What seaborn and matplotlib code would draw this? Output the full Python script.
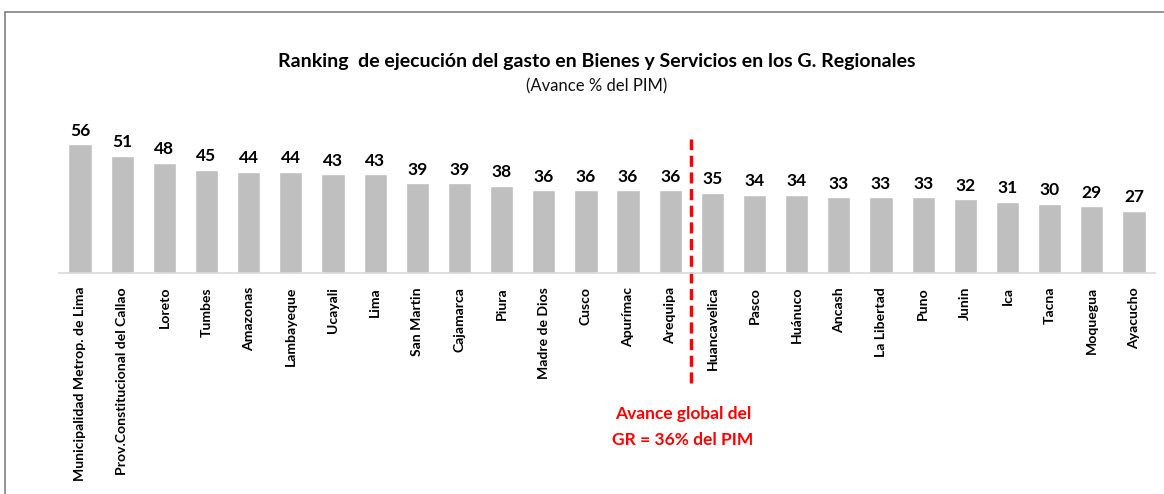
import matplotlib
matplotlib.use("Agg")
import matplotlib.pyplot as plt
import matplotlib.lines as mlines
import seaborn as sns
import pandas as pd

regiones = [
    "Municipalidad Metrop. de Lima", "Prov.Constitucional del Callao", "Loreto",
    "Tumbes", "Amazonas", "Lambayeque", "Ucayali", "Lima", "San Martin",
    "Cajamarca", "Piura", "Madre de Dios", "Cusco", "Apurímac", "Arequipa",
    "Huancavelica", "Pasco", "Huánuco", "Ancash", "La Libertad", "Puno",
    "Junin", "Ica", "Tacna", "Moquegua", "Ayacucho",
]
avance = [56, 51, 48, 45, 44, 44, 43, 43, 39, 39, 38, 36, 36, 36, 36,
          35, 34, 34, 33, 33, 33, 32, 31, 30, 29, 27]
avance_global = 36

df = pd.DataFrame({"region": regiones, "avance": avance})

sns.set_style("white")
plt.rcParams["font.family"] = ["Lato", "DejaVu Sans"]

fig = plt.figure(figsize=(11.64, 4.94), dpi=100)
ax = fig.add_axes([59 / 1164, 1 - 273 / 494, (1155 - 59) / 1164, 138 / 494])

sns.barplot(data=df, x="region", y="avance", color="#BFBFBF", width=0.55,
            saturation=1, ax=ax)

for i, v in enumerate(avance):
    ax.text(i, v + 2.4, f"{v:.0f}", ha="center", va="bottom",
            fontsize=12.5, fontweight="bold", color="#000000")

ax.set_xlim(-0.5, len(regiones) - 0.5)
ax.set_ylim(0, 60)
ax.set_xlabel("")
ax.set_ylabel("")
ax.set_yticks([])
ax.tick_params(axis="x", length=0, pad=10)
for lbl in ax.get_xticklabels():
    lbl.set_rotation(90)
    lbl.set_fontweight("bold")
    lbl.set_fontsize(10.1)
    lbl.set_color("#000000")
for s in ["top", "right", "left"]:
    ax.spines[s].set_visible(False)
ax.spines["bottom"].set_color("#D9D9D9")
ax.spines["bottom"].set_linewidth(1.2)

# linea de avance global (entre Arequipa y Huancavelica)
pos = sum(1 for v in avance if v >= avance_global) - 0.5
ax.axvline(pos, ymin=-0.80, ymax=0.97, color="#FF0000", lw=2.5,
           ls=(0, (3.2, 1.6)), clip_on=False)
ax.text(pos - 0.2, -0.965, "Avance global del\nGR = 36% del PIM", transform=ax.get_xaxis_transform(),
        ha="center", va="top", color="#FF0000", fontsize=12.5,
        fontweight="bold", linespacing=1.75)

fig.text(0.5125, 1 - 61 / 494, "Ranking  de ejecución del gasto en Bienes y Servicios en los G. Regionales",
         ha="center", va="center", fontsize=14, fontweight="bold", color="#000000")
fig.text(0.5125, 1 - 86 / 494, "(Avance % del PIM)", ha="center", va="center",
         fontsize=12, color="#111111")

# marco
fig.add_artist(mlines.Line2D([5 / 1164, 1], [1 - 12 / 494, 1 - 12 / 494],
                             color="#808080", lw=1.2, transform=fig.transFigure))
fig.add_artist(mlines.Line2D([5 / 1164, 5 / 1164], [0, 1 - 12 / 494],
                             color="#808080", lw=1.2, transform=fig.transFigure))

fig.savefig("out.png", dpi=100)
